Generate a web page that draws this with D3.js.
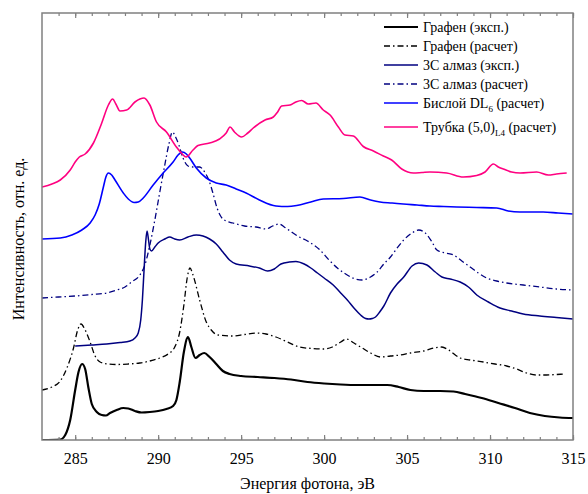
<!DOCTYPE html>
<html>
<head>
<meta charset="utf-8">
<script src="https://cdn.jsdelivr.net/npm/d3@7"></script>
<style>
  html, body { margin: 0; padding: 0; background: #fff; }
  #chart { width: 588px; height: 494px; }
  svg text { font-family: "Liberation Serif", Tinos, "Times New Roman", Times, "DejaVu Serif", "Noto Serif", serif; }
</style>
</head>
<body>
<div id="chart"></div>
<script>
// NEXAFS C1s spectra, [energy eV, intensity a.u.] (curves are offset vertically)
const grapheneExp = [[283.0, 0.0], [284.1, 0.005], [284.4, 0.05], [284.7, 0.2], [285.0, 0.5], [285.2, 0.68], [285.42, 0.76], [285.6, 0.71], [285.8, 0.52], [286.0, 0.36], [286.3, 0.28], [286.6, 0.25], [286.85, 0.245], [287.1, 0.27], [287.5, 0.30], [287.9, 0.32], [288.2, 0.315], [288.6, 0.29], [289.0, 0.275], [289.5, 0.28], [290.0, 0.29], [290.5, 0.31], [290.9, 0.34], [291.1, 0.40], [291.3, 0.58], [291.55, 0.88], [291.8, 1.03], [292.0, 0.93], [292.25, 0.82], [292.5, 0.85], [292.78, 0.87], [293.1, 0.83], [293.5, 0.76], [293.9, 0.69], [294.3, 0.66], [295.0, 0.64], [296.0, 0.63], [297.0, 0.62], [298.0, 0.605], [299.0, 0.58], [300.0, 0.565], [301.0, 0.555], [302.0, 0.55], [303.0, 0.55], [303.8, 0.55], [304.5, 0.53], [305.2, 0.50], [306.0, 0.49], [307.0, 0.49], [307.8, 0.485], [308.5, 0.46], [309.5, 0.42], [310.5, 0.37], [311.5, 0.32], [312.4, 0.27], [313.3, 0.24], [314.2, 0.225], [315.0, 0.22]];

const grapheneCalc = [[283.0, 0.50], [283.6, 0.53], [284.1, 0.59], [284.5, 0.72], [284.9, 0.92], [285.15, 1.10], [285.35, 1.16], [285.6, 1.10], [285.9, 0.98], [286.2, 0.84], [286.5, 0.78], [287.0, 0.76], [287.5, 0.755], [288.2, 0.76], [288.9, 0.77], [289.5, 0.79], [290.1, 0.82], [290.6, 0.86], [291.0, 0.93], [291.3, 1.08], [291.55, 1.35], [291.75, 1.62], [291.92, 1.72], [292.1, 1.65], [292.5, 1.40], [292.9, 1.18], [293.2, 1.10], [293.6, 1.05], [294.5, 1.04], [295.2, 1.055], [295.9, 1.07], [296.5, 1.06], [297.1, 1.03], [297.8, 0.98], [298.5, 0.93], [299.3, 0.915], [300.0, 0.91], [300.5, 0.93], [301.0, 0.98], [301.35, 1.01], [301.8, 0.97], [302.2, 0.93], [302.8, 0.87], [303.4, 0.83], [304.0, 0.84], [304.6, 0.85], [305.2, 0.87], [306.0, 0.89], [306.6, 0.92], [307.1, 0.93], [307.5, 0.90], [308.2, 0.82], [308.8, 0.80], [309.6, 0.78], [310.3, 0.76], [311.0, 0.74], [311.6, 0.71], [312.2, 0.67], [312.8, 0.65], [313.4, 0.65], [314.0, 0.655], [314.5, 0.66]];

const diamondExp = [[285.0, 0.94], [286.0, 0.95], [286.9, 0.96], [287.7, 0.975], [288.3, 0.99], [288.6, 1.02], [288.8, 1.07], [288.95, 1.20], [289.05, 1.40], [289.15, 1.70], [289.25, 1.98], [289.33, 2.09], [289.42, 2.00], [289.5, 1.91], [289.6, 1.89], [289.8, 1.93], [290.0, 1.97], [290.4, 2.01], [290.7, 2.03], [291.0, 2.01], [291.3, 2.00], [291.8, 2.03], [292.3, 2.05], [292.7, 2.04], [293.1, 2.01], [293.5, 1.96], [293.9, 1.88], [294.3, 1.80], [294.7, 1.76], [295.5, 1.74], [296.1, 1.72], [296.6, 1.69], [297.0, 1.71], [297.4, 1.76], [297.9, 1.78], [298.3, 1.785], [298.8, 1.76], [299.2, 1.72], [299.6, 1.67], [300.0, 1.62], [300.55, 1.55], [301.0, 1.47], [301.4, 1.40], [301.8, 1.32], [302.2, 1.25], [302.5, 1.215], [302.7, 1.21], [302.9, 1.215], [303.1, 1.23], [303.35, 1.28], [303.6, 1.34], [304.0, 1.47], [304.4, 1.56], [304.8, 1.63], [305.3, 1.74], [305.7, 1.77], [306.2, 1.75], [306.7, 1.68], [307.1, 1.63], [307.6, 1.61], [308.2, 1.58], [308.7, 1.53], [309.2, 1.45], [309.9, 1.38], [310.6, 1.32], [311.3, 1.29], [312.0, 1.26], [313.0, 1.24], [314.0, 1.225], [315.0, 1.21]];

const diamondCalc = [[283.0, 1.42], [284.0, 1.43], [285.0, 1.44], [286.0, 1.455], [286.9, 1.47], [287.5, 1.50], [288.0, 1.53], [288.4, 1.58], [288.9, 1.65], [289.2, 1.75], [289.5, 1.95], [289.8, 2.20], [290.1, 2.48], [290.4, 2.75], [290.65, 2.96], [290.86, 3.08], [291.05, 3.03], [291.25, 2.95], [291.5, 2.82], [291.8, 2.74], [292.1, 2.73], [292.5, 2.73], [292.8, 2.68], [293.05, 2.60], [293.3, 2.47], [293.55, 2.32], [293.8, 2.23], [294.1, 2.19], [294.5, 2.17], [295.2, 2.14], [295.9, 2.13], [296.5, 2.11], [296.9, 2.14], [297.3, 2.16], [297.6, 2.13], [297.95, 2.09], [298.5, 2.03], [299.0, 1.99], [299.75, 1.90], [300.3, 1.80], [300.8, 1.72], [301.3, 1.66], [301.8, 1.615], [302.3, 1.60], [302.8, 1.63], [303.2, 1.68], [303.6, 1.76], [304.0, 1.83], [304.4, 1.92], [304.8, 2.00], [305.3, 2.07], [305.7, 2.10], [306.1, 2.07], [306.5, 1.98], [306.8, 1.90], [307.3, 1.87], [307.8, 1.85], [308.3, 1.79], [308.8, 1.73], [309.3, 1.67], [309.8, 1.62], [310.4, 1.59], [311.0, 1.57], [312.0, 1.55], [313.0, 1.53], [314.0, 1.51], [315.0, 1.50]];

const bilayerDL6 = [[283.0, 2.01], [284.1, 2.02], [284.8, 2.05], [285.4, 2.10], [285.9, 2.17], [286.2, 2.25], [286.45, 2.36], [286.7, 2.53], [286.85, 2.63], [287.0, 2.67], [287.2, 2.65], [287.4, 2.60], [287.9, 2.47], [288.2, 2.41], [288.55, 2.375], [288.8, 2.38], [289.1, 2.42], [289.7, 2.55], [290.3, 2.67], [290.9, 2.78], [291.2, 2.85], [291.47, 2.88], [291.7, 2.86], [291.9, 2.82], [292.3, 2.72], [292.9, 2.62], [293.5, 2.57], [294.1, 2.55], [294.7, 2.51], [295.3, 2.47], [296.1, 2.40], [297.1, 2.34], [297.8, 2.335], [298.35, 2.345], [299.2, 2.38], [299.95, 2.41], [301.16, 2.415], [302.16, 2.43], [302.8, 2.40], [303.37, 2.38], [304.1, 2.37], [304.77, 2.36], [305.6, 2.35], [306.38, 2.34], [307.2, 2.335], [307.99, 2.33], [309.2, 2.325], [310.4, 2.32], [311.1, 2.29], [311.8, 2.28], [312.5, 2.28], [313.2, 2.28], [314.1, 2.27], [315.0, 2.26]];

const tube50 = [[283.0, 2.53], [283.6, 2.56], [284.1, 2.60], [284.7, 2.70], [285.0, 2.78], [285.25, 2.83], [285.6, 2.86], [286.1, 2.97], [286.6, 3.17], [287.0, 3.35], [287.26, 3.41], [287.45, 3.36], [287.7, 3.29], [288.1, 3.30], [288.6, 3.38], [288.9, 3.41], [289.15, 3.42], [289.5, 3.35], [289.9, 3.18], [290.5, 3.08], [291.1, 2.93], [291.45, 2.86], [291.68, 2.83], [292.1, 2.90], [292.4, 2.945], [293.1, 2.97], [293.7, 3.01], [294.1, 3.07], [294.33, 3.13], [294.6, 3.08], [295.03, 3.03], [295.4, 3.07], [295.73, 3.12], [296.44, 3.20], [296.94, 3.23], [297.2, 3.28], [297.44, 3.34], [297.95, 3.35], [298.3, 3.38], [298.65, 3.395], [299.05, 3.36], [299.51, 3.37], [299.95, 3.30], [300.36, 3.25], [300.86, 3.13], [301.26, 3.05], [301.76, 3.04], [302.36, 2.935], [302.97, 2.89], [303.57, 2.84], [304.07, 2.80], [304.68, 2.71], [305.38, 2.67], [305.9, 2.675], [306.38, 2.68], [307.39, 2.67], [308.39, 2.63], [309.2, 2.645], [309.7, 2.68], [310.2, 2.76], [310.5, 2.73], [310.8, 2.71], [311.3, 2.68], [311.81, 2.67], [312.81, 2.68], [313.51, 2.65], [314.0, 2.66], [314.62, 2.67]];

const xMajorTicks = [285, 290, 295, 300, 305, 310, 315];
const xMinorTicks = d3.range(284, 316, 1);

// legend entries: main text, subscript, tail
const legendLabels = [
  ['Графен (эксп.)', '', ''],
  ['Графен (расчет)', '', ''],
  ['3C алмаз (эксп.)', '', ''],
  ['3C алмаз (расчет)', '', ''],
  ['Бислой DL', '6', ' (расчет)'],
  ['Трубка (5,0)', 'L4', ' (расчет)']
];

const DASHDOT = '6,3,1.5,3';
const series = [
  { data: grapheneExp, color: '#000000', width: 2.2, dash: null },
  { data: grapheneCalc, color: '#000000', width: 1.3, dash: DASHDOT },
  { data: diamondExp, color: '#000080', width: 1.5, dash: null },
  { data: diamondCalc, color: '#000080', width: 1.3, dash: DASHDOT },
  { data: bilayerDL6, color: '#0000ff', width: 1.6, dash: null },
  { data: tube50, color: '#ff0080', width: 1.6, dash: null }
];

const SERIF = '"Liberation Serif", Tinos, "Times New Roman", Times, "DejaVu Serif", "Noto Serif", serif';
const width = 588, height = 494;
const margin = { left: 42, right: 15, top: 13, bottom: 54 };

const svg = d3.select('#chart').append('svg')
  .attr('width', width)
  .attr('height', height);

const x = d3.scaleLinear().domain([283, 315]).range([margin.left, width - margin.right]);
const y = d3.scaleLinear().domain([0, 4.27]).range([height - margin.bottom, margin.top]);

svg.append('defs').append('clipPath').attr('id', 'plot-clip')
  .append('rect')
  .attr('x', margin.left).attr('y', margin.top)
  .attr('width', x.range()[1] - x.range()[0])
  .attr('height', y.range()[0] - y.range()[1]);

const line = d3.line()
  .x(d => x(d[0]))
  .y(d => y(d[1]))
  .curve(d3.curveMonotoneX);

const plot = svg.append('g').attr('clip-path', 'url(#plot-clip)');
series.forEach(s => {
  plot.append('path')
    .datum(s.data)
    .attr('d', line)
    .attr('fill', 'none')
    .attr('stroke', s.color)
    .attr('stroke-width', s.width)
    .attr('stroke-linejoin', 'round')
    .attr('stroke-dasharray', s.dash);
});

// frame and inward ticks (bottom + top)
const frameColor = '#808080';
const bottomY = y.range()[0], topY = y.range()[1];

function styleAxis(g) {
  g.select('.domain').remove();
  g.selectAll('.tick line').attr('stroke', frameColor).attr('stroke-width', 1.2);
}

svg.append('g').attr('transform', `translate(0,${bottomY})`)
  .call(d3.axisBottom(x).tickValues(xMinorTicks).tickSize(-3).tickFormat(''))
  .call(styleAxis);
svg.append('g').attr('transform', `translate(0,${bottomY})`)
  .call(d3.axisBottom(x).tickValues(xMajorTicks).tickSize(-5).tickPadding(13).tickFormat(d3.format('d')))
  .call(styleAxis)
  .call(g => g.attr('font-family', SERIF).attr('font-size', 16))
  .call(g => g.selectAll('.tick text').attr('fill', '#000'));
svg.append('g').attr('transform', `translate(0,${topY})`)
  .call(d3.axisTop(x).tickValues(xMinorTicks).tickSize(-3).tickFormat(''))
  .call(styleAxis);
svg.append('g').attr('transform', `translate(0,${topY})`)
  .call(d3.axisTop(x).tickValues(xMajorTicks).tickSize(-5).tickFormat(''))
  .call(styleAxis);

svg.append('rect')
  .attr('x', x.range()[0]).attr('y', topY)
  .attr('width', x.range()[1] - x.range()[0])
  .attr('height', bottomY - topY)
  .attr('fill', 'none')
  .attr('stroke', frameColor)
  .attr('stroke-width', 1.5);

// axis titles
svg.append('text')
  .attr('x', (x.range()[0] + x.range()[1]) / 2)
  .attr('y', 489)
  .attr('text-anchor', 'middle')
  .attr('font-family', SERIF)
  .attr('font-size', 16)
  .text('Энергия фотона, эВ');

svg.append('text')
  .attr('transform', 'translate(24,239) rotate(-90)')
  .attr('text-anchor', 'middle')
  .attr('font-family', SERIF)
  .attr('font-size', 16)
  .text('Интенсивность, отн. ед.');

// legend
const legendRowY = [27, 46, 65, 84, 103, 127];
const legend = svg.append('g').attr('font-family', SERIF).attr('font-size', 14);
legendLabels.forEach((lab, i) => {
  const s = series[i];
  const ly = legendRowY[i];
  legend.append('line')
    .attr('x1', 384).attr('x2', 418)
    .attr('y1', ly).attr('y2', ly)
    .attr('stroke', s.color)
    .attr('stroke-width', s.width)
    .attr('stroke-dasharray', s.dash);
  const t = legend.append('text')
    .attr('x', 423)
    .attr('y', ly + 5);
  t.append('tspan').text(lab[0]);
  if (lab[1]) {
    t.append('tspan').attr('dy', 4).attr('font-size', 9).text(lab[1]);
    t.append('tspan').attr('dy', -4).text(lab[2]);
  }
});
</script>
</body>
</html>
